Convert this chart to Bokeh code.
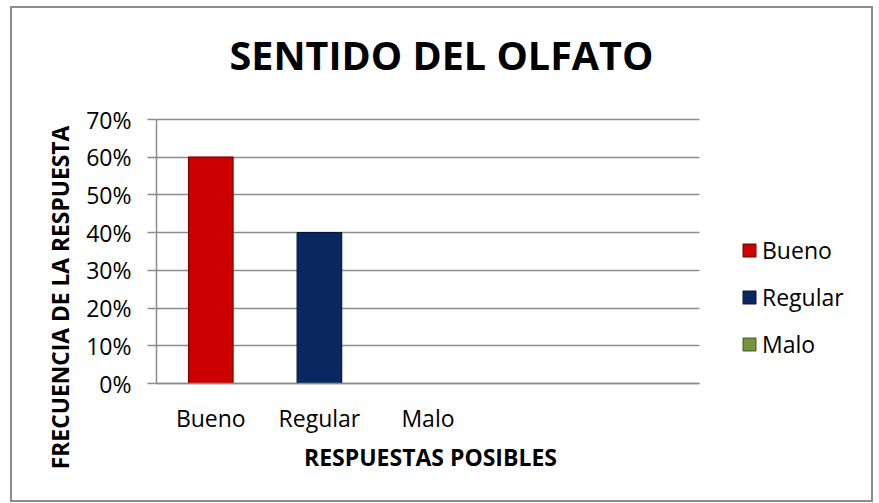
from bokeh.plotting import figure
from bokeh.models import (ColumnDataSource, FixedTicker, NumeralTickFormatter,
                          Legend, LegendItem, Range1d, Label)
from bokeh.embed import file_html
from bokeh.resources import INLINE

# ---- data ----
categories = ["Bueno", "Regular", "Malo"]
values = [0.60, 0.40, 0.0]
colors = ["#CC0000", "#0B2761", "#77933C"]
edge_colors = ["#7a0000", "#06173a", "#4F6228"]
slot_count = 5
y_ticks = [0, 0.1, 0.2, 0.3, 0.4, 0.5, 0.6, 0.7]
y_max = 0.7
chart_title = "SENTIDO DEL OLFATO"
x_title = "RESPUESTAS POSIBLES"
y_title = "FRECUENCIA DE LA RESPUESTA"

# ---- layout constants (pixels) ----
FONT = "Open Sans"
GRID = "#8c8c8c"
TEXT = "#000000"
CANVAS_W, CANVAS_H = 859, 492          # drawing area inside the 2px border
PLOT_L, PLOT_R = 144, 687              # plot area inside canvas (x)
PLOT_T, PLOT_B = 111, 375              # plot area inside canvas (y)

px_x = (PLOT_R - PLOT_L) / slot_count
px_y = (PLOT_B - PLOT_T) / y_max
x_range = Range1d(-PLOT_L / px_x, (CANVAS_W - PLOT_L) / px_x)
y_range = Range1d(-(CANVAS_H - PLOT_B) / px_y, PLOT_B / px_y)

p = figure(frame_width=CANVAS_W, frame_height=CANVAS_H, output_backend="svg",
           toolbar_location=None, x_range=x_range, y_range=y_range,
           min_border=0)
p.min_border_left = 0
p.min_border_right = 0
p.min_border_top = 0
p.min_border_bottom = 0
p.styles = {"border": "2px solid #8c8c8c", "box-sizing": "border-box",
            "margin-left": "10px", "margin-top": "6px"}
p.outline_line_color = None

# horizontal gridlines, limited to the plot area
p.xgrid.grid_line_color = None
yg = p.ygrid[0]
yg.ticker = FixedTicker(ticks=y_ticks)
if "cross_bounds" in yg.properties():
    yg.cross_bounds = (0, slot_count)
    yg.grid_line_color = GRID
    yg.grid_line_width = 1.5
else:
    yg.grid_line_color = None
    p.segment(x0=[0] * len(y_ticks), x1=[slot_count] * len(y_ticks),
              y0=y_ticks, y1=y_ticks, line_color=GRID, line_width=1.5)

renderers = []
for i, (cat, val, col, ec) in enumerate(zip(categories, values, colors, edge_colors)):
    src = ColumnDataSource(dict(x=[i + 0.5], top=[val]))
    r = p.vbar(x="x", top="top", width=0.41, bottom=0, source=src,
               fill_color=col, line_color=ec, line_width=1.2)
    renderers.append(r)

legend = Legend(items=[LegendItem(label=c, renderers=[r]) for c, r in zip(categories, renderers)],
                location=(729, 140),
                label_text_font=FONT, label_text_font_size="23px", label_text_color=TEXT,
                glyph_width=16, glyph_height=16, spacing=15, label_standoff=5,
                border_line_color=None, background_fill_alpha=0, margin=0, padding=0)
p.add_layout(legend, "center")

# x axis at y=0
xa = p.xaxis[0]
xa.fixed_location = 0
xa.bounds = (0, slot_count)
xa.ticker = FixedTicker(ticks=[i + 0.5 for i in range(len(categories))])
xa.major_label_overrides = {i + 0.5: c for i, c in enumerate(categories)}
xa.major_tick_line_color = None
xa.minor_tick_line_color = None
xa.axis_line_color = GRID
xa.axis_line_width = 1.5
xa.major_label_text_font = FONT
xa.major_label_text_font_size = "23px"
xa.major_label_text_color = TEXT
xa.major_label_standoff = 12

# y axis at x=0
ya = p.yaxis[0]
ya.fixed_location = 0
ya.bounds = (0, y_max)
ya.ticker = FixedTicker(ticks=y_ticks)
ya.formatter = NumeralTickFormatter(format="0%")
ya.minor_tick_line_color = None
ya.major_tick_out = 9
ya.major_tick_in = 0
ya.major_tick_line_color = GRID
ya.major_tick_line_width = 1.5
ya.axis_line_color = GRID
ya.axis_line_width = 1.5
ya.major_label_text_font = FONT
ya.major_label_text_font_size = "23px"
ya.major_label_text_color = TEXT
ya.major_label_standoff = 16

# titles (screen units from the canvas' bottom-left)
p.add_layout(Label(x=429, y=446, x_units="screen", y_units="screen", text=chart_title,
                   text_font=FONT, text_font_size="39.5px", text_font_style="bold",
                   text_color=TEXT, text_align="center", text_baseline="alphabetic"))
p.add_layout(Label(x=418, y=44, x_units="screen", y_units="screen", text=x_title,
                   text_font=FONT, text_font_size="23px", text_font_style="bold",
                   text_color=TEXT, text_align="center", text_baseline="alphabetic"))
p.add_layout(Label(x=48, y=203, x_units="screen", y_units="screen", text=y_title,
                   angle=90, angle_units="deg",
                   text_font=FONT, text_font_size="22.8px", text_font_style="bold",
                   text_color=TEXT, text_align="center", text_baseline="alphabetic"))

open("out.html", "w").write(file_html(p, INLINE))
